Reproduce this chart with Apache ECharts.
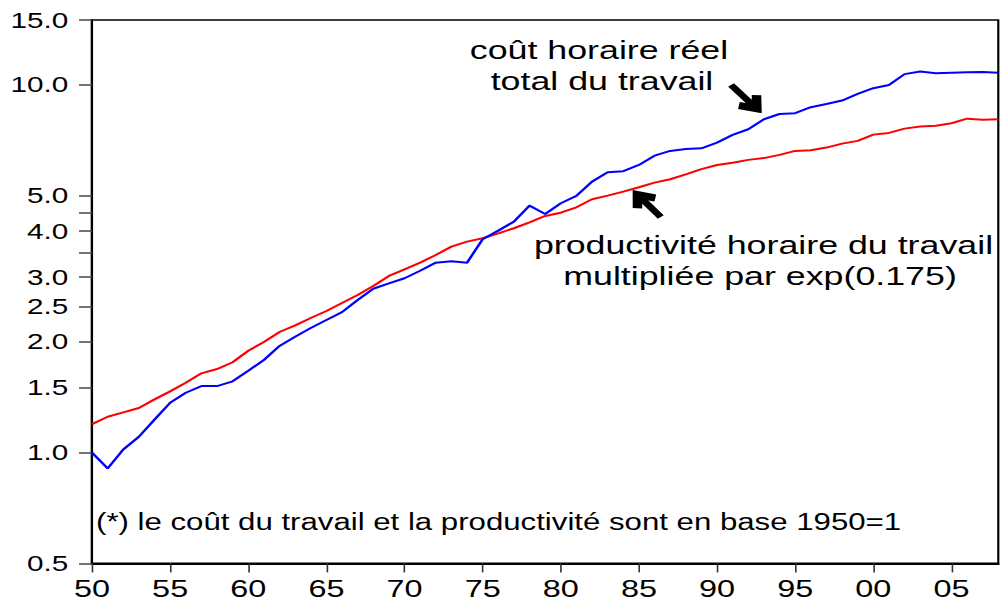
<!DOCTYPE html>
<html>
<head>
<meta charset="utf-8">
<script src="https://cdn.jsdelivr.net/npm/echarts@6/dist/echarts.min.js"></script>
<style>
  html, body { margin: 0; padding: 0; background: #ffffff; overflow: hidden; }
  #chart { width: 740.74px; height: 608px; transform: scaleX(1.35); transform-origin: 0 0; }
</style>
</head>
<body>
<div id="chart"></div>
<script>
// ---- data ----
const years = [1950,1951,1952,1953,1954,1955,1956,1957,1958,1959,
  1960,1961,1962,1963,1964,1965,1966,1967,1968,1969,
  1970,1971,1972,1973,1974,1975,1976,1977,1978,1979,
  1980,1981,1982,1983,1984,1985,1986,1987,1988,1989,
  1990,1991,1992,1993,1994,1995,1996,1997,1998,1999,
  2000,2001,2002,2003,2004,2005,2006,2007,2008];

// coût horaire réel total du travail (base 1950 = 1)
const costSeries = [1.00,0.906,1.02,1.105,1.23,1.367,1.455,1.517,1.517,1.563,
  1.67,1.786,1.95,2.066,2.182,2.294,2.41,2.60,2.79,2.886,
  2.979,3.123,3.284,3.313,3.284,3.803,4.014,4.246,4.693,4.455,
  4.764,4.987,5.455,5.786,5.822,6.055,6.417,6.609,6.69,6.72,
  6.96,7.305,7.57,8.06,8.33,8.37,8.69,8.87,9.06,9.45,
  9.79,9.99,10.69,10.86,10.75,10.79,10.82,10.84,10.79];

// productivité horaire du travail multipliée par exp(0.175)
const prodSeries = [1.196,1.252,1.287,1.322,1.396,1.468,1.549,1.643,1.688,1.761,
  1.893,1.999,2.128,2.219,2.323,2.427,2.552,2.683,2.838,3.022,
  3.151,3.284,3.446,3.63,3.747,3.826,3.947,4.074,4.229,4.40,
  4.49,4.645,4.884,4.996,5.123,5.264,5.42,5.537,5.71,5.90,
  6.05,6.14,6.25,6.32,6.45,6.61,6.64,6.75,6.92,7.04,
  7.32,7.40,7.60,7.70,7.74,7.86,8.09,8.03,8.06];

const yTickValues = [0.5,1,1.5,2,2.5,3,3.5,4,4.5,5,10,15];
const yLabelValues = [0.5,1,1.5,2,2.5,3,4,5,10,15];
const xTickValues = [1950,1955,1960,1965,1970,1975,1980,1985,1990,1995,2000,2005];

// annotation arrows (tail -> head), in data coordinates [year, value]
const arrowCost = [[1990.9, 9.99], [1992.35, 8.76]];
const arrowProd = [[1986.4, 4.37], [1985.1, 4.94]];

const labelCost = ['coût horaire réel', 'total du travail'];
const labelProd = ['productivité horaire du travail', 'multipliée par exp(0.175)'];
const footnote = '(*) le coût du travail et la productivité sont en base 1950=1';

// ---- chart ----
const S = 1.35; // horizontal stretch of the page
const FONT = "'Liberation Sans', Arial, Helvetica, sans-serif";
const chart = echarts.init(document.getElementById('chart'), null, { renderer: 'svg' });

const chevron = 'path://M5,0 L10,6.5 L7.6,8.6 L5,5.4 L2.4,8.6 L0,6.5 Z';

function txt(str, cx, cy, size, align) {
  return {
    type: 'text',
    x: cx / S,
    y: cy,
    silent: true,
    style: {
      text: str,
      font: size + 'px ' + FONT,
      fill: '#000',
      align: align,
      verticalAlign: 'middle'
    }
  };
}

const option = {
  animation: false,
  backgroundColor: '#ffffff',
  grid: {
    left: 92 / S,
    top: 20,
    width: (998.3 - 92) / S,
    height: 543.4,
    show: true,
    borderColor: '#000',
    borderWidth: 1.6,
    backgroundColor: 'transparent'
  },
  xAxis: {
    type: 'value',
    min: 1950,
    max: 2008,
    interval: 5,
    splitLine: { show: false },
    axisLine: { show: true, onZero: false, lineStyle: { color: '#000', width: 2 } },
    axisTick: { show: true, length: 9, customValues: xTickValues, lineStyle: { color: '#333', width: 1.2 } },
    axisLabel: {
      customValues: xTickValues,
      margin: 13,
      fontSize: 24,
      fontFamily: FONT,
      color: '#000',
      formatter: v => String(Math.round(v) % 100).padStart(2, '0')
    }
  },
  yAxis: {
    type: 'log',
    logBase: 10,
    min: 0.5,
    max: 15,
    splitLine: { show: false },
    minorTick: { show: false },
    axisLine: { show: true, onZero: false, lineStyle: { color: '#000', width: 1.6 } },
    axisTick: { show: true, length: 9.6, customValues: yTickValues, lineStyle: { color: '#444', width: 1.5 } },
    axisLabel: {
      customValues: yLabelValues,
      margin: 17.5,
      fontSize: 22,
      fontFamily: FONT,
      color: '#000',
      formatter: v => Number(v).toFixed(1)
    }
  },
  series: [
    {
      name: 'productivité',
      type: 'line',
      showSymbol: false,
      symbol: 'none',
      silent: true,
      lineStyle: { color: '#ff0000', width: 2 },
      data: years.map((y, i) => [y, prodSeries[i]])
    },
    {
      name: 'coût',
      type: 'line',
      showSymbol: false,
      symbol: 'none',
      silent: true,
      lineStyle: { color: '#0000ff', width: 2 },
      data: years.map((y, i) => [y, costSeries[i]]),
      markLine: {
        silent: true,
        animation: false,
        symbol: ['none', chevron],
        symbolSize: [22, 19],
        label: { show: false },
        lineStyle: { color: '#000', width: 5.5, type: 'solid' },
        emphasis: { disabled: true },
        data: [
          [{ coord: arrowCost[0] }, { coord: arrowCost[1] }],
          [{ coord: arrowProd[0] }, { coord: arrowProd[1] }]
        ]
      }
    }
  ],
  graphic: [
    txt(labelCost[0], 599, 50, 26.5, 'center'),
    txt(labelCost[1], 602, 81, 26.5, 'center'),
    txt(labelProd[0], 763.5, 245, 26.5, 'center'),
    txt(labelProd[1], 760, 276, 26.5, 'center'),
    txt(footnote, 96, 522, 23.1, 'left')
  ]
};
chart.setOption(option);
</script>
</body>
</html>
